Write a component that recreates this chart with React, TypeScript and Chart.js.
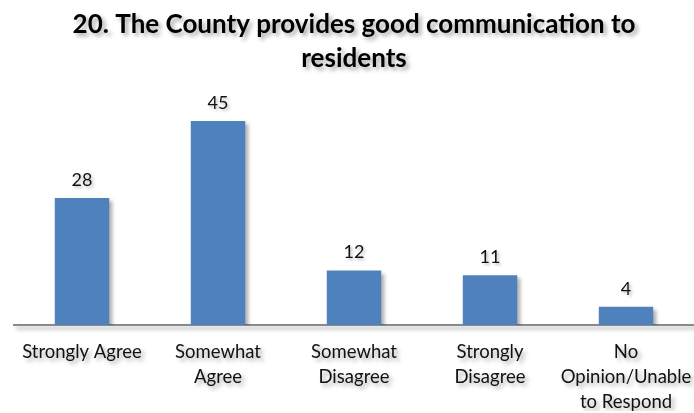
import React, { useEffect, useRef } from "react";
import { Chart, registerables } from "chart.js";

Chart.register(...registerables);

const categories: string[][] = [
  ["Strongly Agree"],
  ["Somewhat", "Agree"],
  ["Somewhat", "Disagree"],
  ["Strongly", "Disagree"],
  ["No", "Opinion/Unable", "to Respond"],
];
const values: number[] = [28, 45, 12, 11, 4];
const titleLines: string[] = ["20. The County provides good communication to", "residents"];

const FONT = "Lato, 'Open Sans', sans-serif";

const shadowPlugin = {
  id: "shadowAll",
  beforeDraw(chart: any) {
    const ctx = chart.ctx;
    ctx.save();
    ctx.shadowColor = "rgba(0,0,0,0.35)";
    ctx.shadowBlur = 4;
    ctx.shadowOffsetX = 3;
    ctx.shadowOffsetY = 3;
  },
  afterDraw(chart: any) {
    chart.ctx.restore();
  },
};

const valueLabels = {
  id: "valueLabels",
  afterDatasetsDraw(chart: any) {
    const ctx = chart.ctx;
    const meta = chart.getDatasetMeta(0);
    ctx.save();
    ctx.shadowColor = "rgba(0,0,0,0.25)";
    ctx.shadowBlur = 3;
    ctx.shadowOffsetX = 2;
    ctx.shadowOffsetY = 2;
    ctx.font = `18px ${FONT}`;
    ctx.fillStyle = "#111";
    ctx.textAlign = "center";
    ctx.textBaseline = "middle";
    meta.data.forEach((bar: any, i: number) => {
      ctx.fillText(String(chart.data.datasets[0].data[i]), bar.x, bar.y - 18);
    });
    ctx.restore();
  },
};

export default function App() {
  const ref = useRef<HTMLCanvasElement | null>(null);
  useEffect(() => {
    if (!ref.current) return;
    const chart = new Chart(ref.current, {
      type: "bar",
      data: {
        labels: categories,
        datasets: [
          {
            data: values,
            backgroundColor: "#4F81BD",
            borderWidth: 0,
            categoryPercentage: 1,
            barPercentage: 0.4,
          },
        ],
      },
      options: {
        animation: false,
        responsive: true,
        maintainAspectRatio: false,
        layout: { padding: { left: 14, right: 0, top: 8, bottom: 2 } },
        plugins: {
          legend: { display: false },
          tooltip: { enabled: false },
          title: {
            display: true,
            text: titleLines,
            color: "#000",
            font: { family: FONT, size: 26, weight: "bold", lineHeight: 1.3 },
            padding: { top: 0, bottom: 22.7 },
          },
        },
        scales: {
          x: {
            grid: { display: false, drawTicks: false },
            border: { display: true, color: "#8a8a8a", width: 2 },
            ticks: {
              color: "#111",
              font: { family: FONT, size: 18.5, lineHeight: 1.35 },
              padding: 15,
              maxRotation: 0,
              autoSkip: false,
            },
            afterFit: (scale: any) => {
              scale.height = 86;
              scale.paddingLeft = 0;
              scale.paddingRight = 0;
            },
          },
          y: {
            display: false,
            min: 0,
            max: 50,
          },
        },
      },
      plugins: [shadowPlugin, valueLabels],
    });
    return () => chart.destroy();
  }, []);
  return (
    <div style={{ position: "absolute", left: 0, top: 0, width: 694, height: 413, background: "#fff" }}>
      <canvas ref={ref} />
    </div>
  );
}
